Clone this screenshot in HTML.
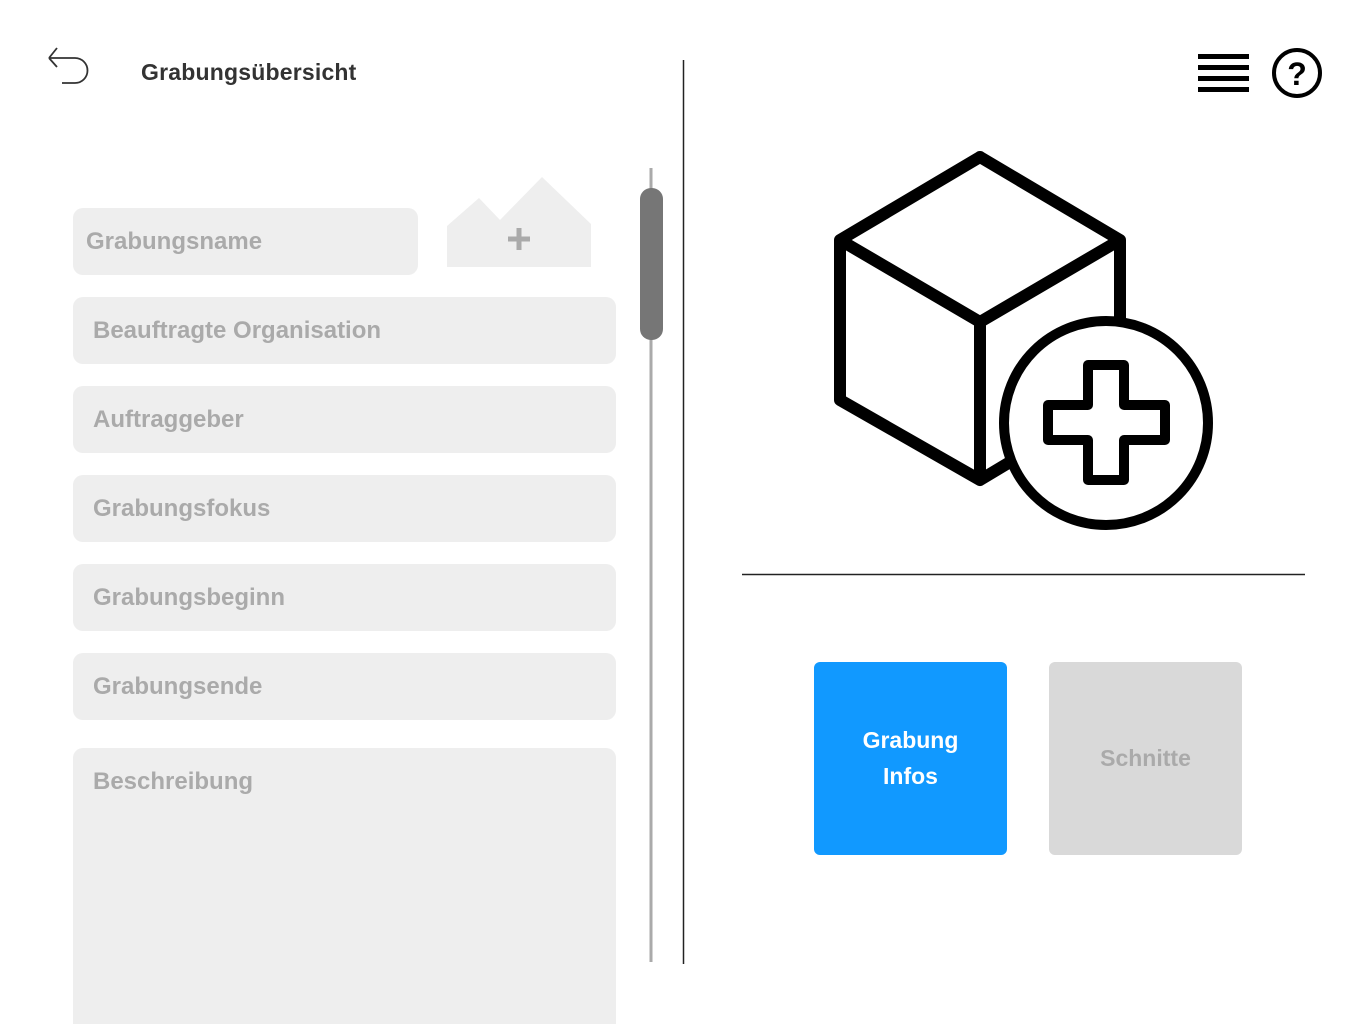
<!DOCTYPE html>
<html><head><meta charset="utf-8"><style>
html,body{margin:0;width:1366px;height:1024px;overflow:hidden}
body{background:#fff;position:relative;font-family:"Liberation Sans",sans-serif}
.f{position:absolute;left:73px;width:543px;height:67px;background:#eeeeee;border-radius:10px;color:#aaaaaa;font-weight:bold;font-size:24px;box-sizing:border-box;padding-left:20px;line-height:67px;letter-spacing:0px}
.a{position:absolute}
</style></head><body>
<svg class="a" style="left:0;top:0" width="1366" height="1024">
<path d="M49 58 L57 48 M49 58 L57 67 M49 58 H75 A9.5 9.5 0 0 1 75 83 H62" fill="none" stroke="#333" stroke-width="1.8"/>
<line x1="683.5" y1="60" x2="683.5" y2="964" stroke="#222" stroke-width="1.5"/>
<line x1="651" y1="168" x2="651" y2="962" stroke="#aaa" stroke-width="3"/>
<rect x="640" y="188" width="23" height="152" rx="11" fill="#767676"/>
<polygon points="447,226 479,198 500,220 542,177 591,224 591,267 447,267" fill="#eeeeee"/>
<path d="M519 228 V250 M508 239 H530" stroke="#aaa" stroke-width="5"/>
<line x1="742" y1="574.5" x2="1305" y2="574.5" stroke="#222" stroke-width="1.5"/>
<g fill="#000"><rect x="1198" y="54" width="51" height="5"/><rect x="1198" y="65" width="51" height="5"/><rect x="1198" y="76" width="51" height="5"/><rect x="1198" y="87" width="51" height="5"/></g>
<circle cx="1297" cy="73" r="23" fill="none" stroke="#000" stroke-width="4"/>
<text x="1297" y="85" text-anchor="middle" font-size="32" font-weight="bold" font-family="Liberation Sans">?</text>
<g fill="none" stroke="#000" stroke-width="12" stroke-linejoin="round" stroke-linecap="round">
<path d="M980 157 L840 240 L840 400 L980 480 L1010 462 M980 157 L1120 240 L1120 322 M840 240 L980 322 L1120 240 M980 322 V480"/>
</g>
<circle cx="1106" cy="423" r="102" fill="#fff" stroke="#000" stroke-width="10"/>
<path d="M1088 365 H1124 V405 H1165 V440 H1124 V480 H1088 V440 H1048 V405 H1088 Z" fill="none" stroke="#000" stroke-width="10" stroke-linejoin="round"/>
</svg>
<div class="a" style="left:141px;top:59px;font-size:23px;font-weight:bold;color:#333;letter-spacing:0.2px">Grabungsübersicht</div>
<div class="f" style="top:208px;width:345px;padding-left:13px">Grabungsname</div>
<div class="f" style="top:297px">Beauftragte Organisation</div>
<div class="f" style="top:386px">Auftraggeber</div>
<div class="f" style="top:475px">Grabungsfokus</div>
<div class="f" style="top:564px">Grabungsbeginn</div>
<div class="f" style="top:653px">Grabungsende</div>
<div class="f" style="top:748px;height:300px;line-height:68px">Beschreibung</div>
<div class="a" style="left:814px;top:662px;width:193px;height:193px;background:#1199ff;border-radius:6px;color:#fff;font-weight:bold;font-size:23px;text-align:center;line-height:36px;padding-top:60px;box-sizing:border-box">Grabung<br>Infos</div>
<div class="a" style="left:1049px;top:662px;width:193px;height:193px;background:#d9d9d9;border-radius:6px;color:#aaa;font-weight:bold;font-size:23px;text-align:center;line-height:193px">Schnitte</div>
</body></html>
